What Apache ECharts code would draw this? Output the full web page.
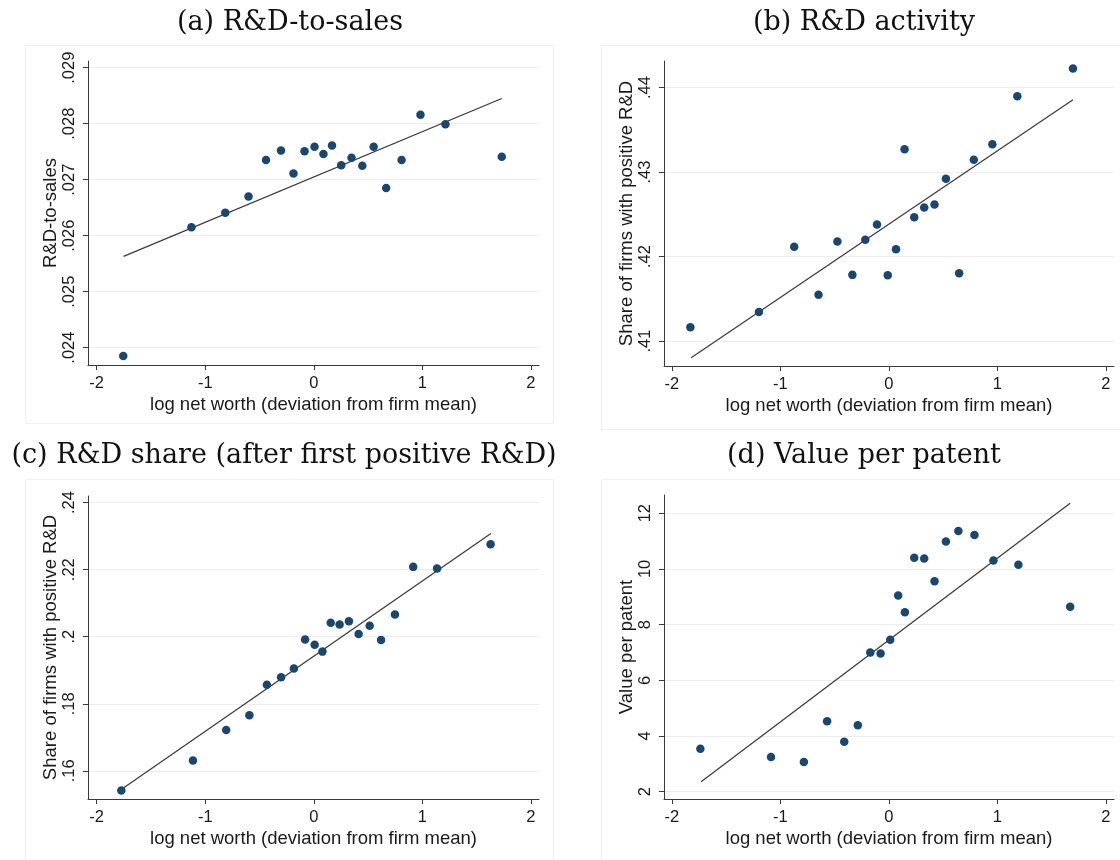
<!DOCTYPE html>
<html>
<head>
<meta charset="utf-8">
<script src="https://cdn.jsdelivr.net/npm/echarts@6/dist/echarts.min.js"></script>
<style>
html,body{margin:0;padding:0;background:#ffffff;}
#chart{width:1120px;height:860px;}
</style>
</head>
<body>
<div id="chart"></div>
<script>
// ---------- data ----------
const panelTitles = ['(a) R&D-to-sales', '(b) R&D activity', '(c) R&D share (after first positive R&D)', '(d) Value per patent'];
const xAxisName = 'log net worth (deviation from firm mean)';
const yAxisNames = ['R&D-to-sales', 'Share of firms with positive R&D', 'Share of firms with positive R&D', 'Value per patent'];

const xTicks = [-2, -1, 0, 1, 2];
const yTicksA = [0.024, 0.025, 0.026, 0.027, 0.028, 0.029];
const yTicksB = [0.41, 0.42, 0.43, 0.44];
const yTicksC = [0.16, 0.18, 0.20, 0.22, 0.24];
const yTicksD = [2, 4, 6, 8, 10, 12];

// (a) R&D-to-sales
const xA = [-1.755, -1.127, -0.815, -0.601, -0.440, -0.302, -0.187, -0.085, 0.007, 0.089, 0.168, 0.253, 0.348, 0.447, 0.552, 0.667, 0.809, 0.983, 1.213, 1.732];
const yA = [0.02385, 0.02615, 0.02641, 0.02670, 0.02735, 0.02752, 0.02711, 0.02751, 0.02759, 0.02746, 0.02761, 0.02726, 0.02739, 0.02725, 0.02759, 0.02685, 0.02735, 0.02816, 0.02799, 0.02741];
const fitXA = [-1.752, 1.732];
const fitYA = [0.02563, 0.02845];

// (b) R&D activity
const xB = [-1.829, -1.197, -0.872, -0.648, -0.474, -0.336, -0.217, -0.109, -0.010, 0.066, 0.145, 0.234, 0.326, 0.421, 0.526, 0.648, 0.783, 0.954, 1.184, 1.697];
const yB = [0.41165, 0.41345, 0.42118, 0.41549, 0.42180, 0.41784, 0.42200, 0.42380, 0.41780, 0.42086, 0.43271, 0.42467, 0.42580, 0.42616, 0.42922, 0.41804, 0.43145, 0.43329, 0.43898, 0.44224];
const fitXB = [-1.822, 1.697];
const fitYB = [0.40804, 0.43855];

// (c) R&D share (after first positive R&D)
const xC = [-1.773, -1.113, -0.807, -0.593, -0.432, -0.301, -0.183, -0.080, 0.008, 0.080, 0.156, 0.238, 0.324, 0.413, 0.515, 0.620, 0.748, 0.916, 1.136, 1.629];
const yC = [0.15417, 0.16306, 0.17215, 0.17659, 0.18568, 0.18795, 0.19052, 0.19921, 0.19763, 0.19556, 0.20415, 0.20366, 0.20464, 0.20080, 0.20326, 0.19901, 0.20662, 0.22084, 0.22035, 0.22756];
const fitXC = [-1.767, 1.632];
const fitYC = [0.15457, 0.23081];

// (d) Value per patent
const xD = [-1.737, -1.086, -0.783, -0.569, -0.411, -0.286, -0.171, -0.076, 0.013, 0.086, 0.148, 0.234, 0.326, 0.421, 0.526, 0.641, 0.789, 0.964, 1.194, 1.671];
const yD = [3.542, 3.246, 3.068, 4.527, 3.791, 4.384, 6.994, 6.958, 7.457, 9.046, 8.441, 10.399, 10.375, 9.556, 10.980, 11.359, 11.217, 10.304, 10.149, 8.643];
const fitXD = [-1.730, 1.671];
const fitYD = [2.356, 12.356];

// ---------- layout / styles ----------
const panels = [
  {xs: xA, ys: yA, fx: fitXA, fy: fitYA, yTicks: yTicksA, grid: {left: 88, top: 61, width: 451, height: 304}, xr: [-2.08, 2.075], yr: [0.02369, 0.02912]},
  {xs: xB, ys: yB, fx: fitXB, fy: fitYB, yTicks: yTicksB, grid: {left: 664, top: 61, width: 450, height: 305}, xr: [-2.072, 2.075], yr: [0.40706, 0.44314]},
  {xs: xC, ys: yC, fx: fitXC, fy: fitYC, yTicks: yTicksC, grid: {left: 88, top: 496, width: 451, height: 303}, xr: [-2.08, 2.075], yr: [0.1516, 0.24198]},
  {xs: xD, ys: yD, fx: fitXD, fy: fitYD, yTicks: yTicksD, grid: {left: 664, top: 495, width: 450, height: 304}, xr: [-2.072, 2.075], yr: [1.739, 12.652]}
];
const titleCenters = [[290, 23], [864, 23], [284, 456], [864, 456]];
const panelBoxes = [[25, 45, 528, 378], [601, 45, 530, 384], [25, 479, 528, 381], [601, 479, 530, 381]];

const SANS = 'Liberation Sans, Arial, Helvetica, sans-serif';
const axisColor = '#3a3a3a';
const textColor = '#1a1a1a';
const markerColor = '#1a476f';

function fmtY(v) {
  const s = String(+Number(v).toPrecision(6));
  return s.replace(/^0\./, '.').replace(/^-0\./, '-.');
}

const grids = [], xAxes = [], yAxes = [], series = [], graphics = [];
panels.forEach((p, i) => {
  grids.push(Object.assign({containLabel: false}, p.grid));
  xAxes.push({
    type: 'value', gridIndex: i, min: p.xr[0], max: p.xr[1],
    name: xAxisName, nameLocation: 'middle', nameGap: 30,
    nameTextStyle: {fontFamily: SANS, fontSize: 18.5, color: textColor},
    axisLine: {show: true, onZero: false, lineStyle: {color: axisColor, width: 1}},
    axisTick: {show: true, length: 5, customValues: xTicks, lineStyle: {color: axisColor, width: 1}},
    axisLabel: {show: true, customValues: xTicks, margin: 10, fontFamily: SANS, fontSize: 16.5, color: textColor, formatter: v => String(v)},
    splitLine: {show: false}
  });
  yAxes.push({
    type: 'value', gridIndex: i, min: p.yr[0], max: p.yr[1],
    name: yAxisNames[i], nameLocation: 'middle', nameGap: 28,
    nameTextStyle: {fontFamily: SANS, fontSize: 18.5, color: textColor},
    axisLine: {show: true, onZero: false, lineStyle: {color: axisColor, width: 1}},
    axisTick: {show: true, length: 5, customValues: p.yTicks, lineStyle: {color: axisColor, width: 1}},
    axisLabel: {show: true, customValues: p.yTicks, rotate: 90, margin: 10, fontFamily: SANS, fontSize: 16.5, color: textColor, formatter: fmtY},
    splitLine: {show: true, lineStyle: {color: '#ededed', width: 1}}
  });
  series.push({
    type: 'line', xAxisIndex: i, yAxisIndex: i, z: 2,
    data: p.fx.map((x, k) => [x, p.fy[k]]),
    showSymbol: false, symbol: 'none', silent: true, animation: false,
    lineStyle: {color: '#3c3c3c', width: 1.3}
  });
  series.push({
    type: 'scatter', xAxisIndex: i, yAxisIndex: i, z: 3,
    data: p.xs.map((x, k) => [x, p.ys[k]]),
    symbol: 'circle', symbolSize: 8.5, animation: false,
    itemStyle: {color: markerColor, opacity: 1}
  });
  const b = panelBoxes[i];
  graphics.push({type: 'rect', silent: true, z: -10, shape: {x: b[0] + 0.5, y: b[1] + 0.5, width: b[2], height: b[3]},
    style: {fill: 'none', stroke: '#f1f1f1', lineWidth: 1}});
  const tc = titleCenters[i];
  graphics.push({type: 'text', silent: true, x: tc[0], y: tc[1],
    style: {text: panelTitles[i], fontFamily: 'DejaVu Serif, Liberation Serif, serif', fontSize: 27, fill: '#111', align: 'center', verticalAlign: 'middle'}});
});

const chart = echarts.init(document.getElementById('chart'), null, {renderer: 'canvas'});
chart.setOption({
  backgroundColor: '#ffffff',
  animation: false,
  grid: grids,
  xAxis: xAxes,
  yAxis: yAxes,
  series: series,
  graphic: graphics
});
</script>
</body>
</html>
